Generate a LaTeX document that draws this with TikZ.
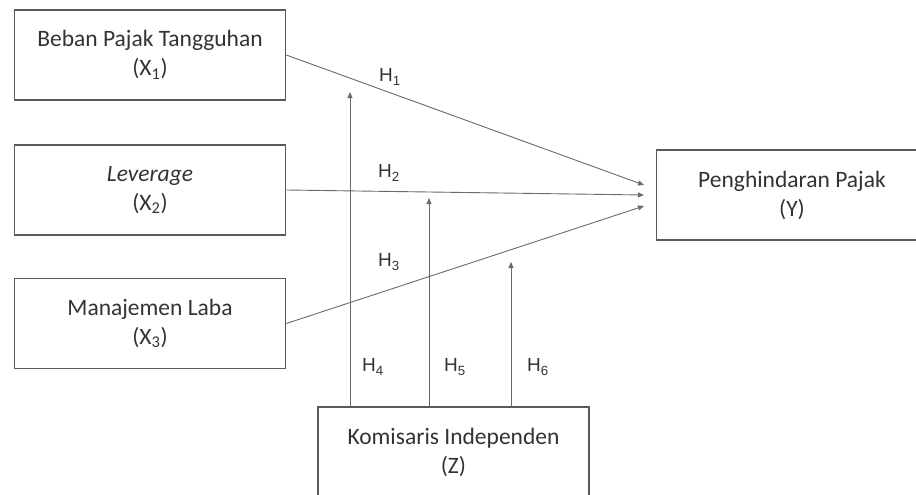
\documentclass[tikz,border=0pt]{standalone}
\usepackage{fontspec}
\setmainfont{Carlito}
\newfontfamily\labfont{Liberation Sans}
\usetikzlibrary{arrows.meta}

\definecolor{boxline}{HTML}{5A5A5A}
\definecolor{conline}{HTML}{6A6A6A}
\definecolor{txt}{HTML}{333333}

\tikzset{
	varbox/.style={draw=boxline,line width=1.6pt,minimum width=271pt,minimum height=90pt,
		align=center,text=txt,font=\fontsize{23.5}{29}\selectfont,inner sep=0pt},
	hlabel/.style={text=txt,font=\labfont\fontsize{19}{22}\selectfont,inner sep=0pt},
	conn/.style={draw=conline,line width=0.9pt,-{Triangle[length=6pt,width=5pt]}}
}

\begin{document}
\begin{tikzpicture}[x=1pt,y=-1pt]
			\useasboundingbox (0,0) rectangle (916,495);

			% variabel
			\node[varbox] (x1) at (150,55) {Beban Pajak Tangguhan\\(X\textsubscript{1})};
			\node[varbox] (x2) at (150,190) {\textit{Leverage}\\(X\textsubscript{2})};
			\node[varbox] (x3) at (150,323.5) {Manajemen Laba\\(X\textsubscript{3})};
			\node[varbox] (y) at (792,195) {Penghindaran Pajak\\(Y)};
			\node[varbox] (z) at (453.5,452) {Komisaris Independen\\(Z)};

			% ujung panah
			\coordinate (t1) at (644,185);
			\coordinate (t2) at (644,195);
			\coordinate (t3) at (644,206);
			\coordinate (m4) at (350,92);
			\coordinate (m5) at (429,198);
			\coordinate (m6) at (511,262);

			\draw[conn] (x1.east) -- (t1);
			\draw[conn] (x2.east) -- (t2);
			\draw[conn] (x3.east) -- (t3);
			\draw[conn] (z.north -| m4) -- (m4);
			\draw[conn] (z.north -| m5) -- (m5);
			\draw[conn] (z.north -| m6) -- (m6);

			% hipotesis
			\node[hlabel] (h1) at (390,77) {H\textsubscript{1}};
			\node[hlabel] (h2) at (389,173) {H\textsubscript{2}};
			\node[hlabel] (h3) at (389,262) {H\textsubscript{3}};
			\node[hlabel] (h4) at (373,367) {H\textsubscript{4}};
			\node[hlabel] (h5) at (455,367) {H\textsubscript{5}};
			\node[hlabel] (h6) at (538,367) {H\textsubscript{6}};
		\end{tikzpicture}
\end{document}
